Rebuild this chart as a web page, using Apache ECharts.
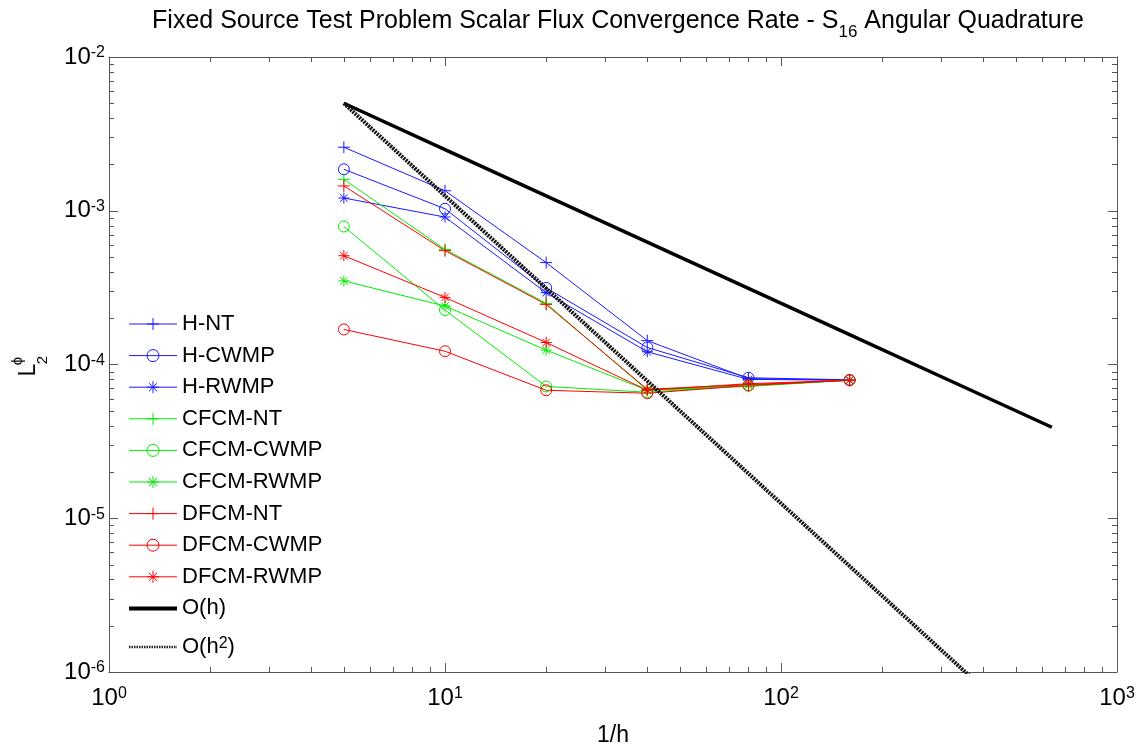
<!DOCTYPE html>
<html><head><meta charset="utf-8">
<script src="https://cdn.jsdelivr.net/npm/echarts@6/dist/echarts.min.js"></script>
<style>html,body{margin:0;padding:0;background:#fff}#c{width:1143px;height:746px}</style>
</head><body><div id="c"></div>
<script>
// ---- data ----
const invH = [5, 10, 20, 40, 80, 160];
const H_NT      = [2.59e-3, 1.35e-3, 4.6e-4, 1.43e-4, 8.1e-5, 7.9e-5];
const H_CWMP    = [1.86e-3, 1.03e-3, 3.15e-4, 1.29e-4, 8.2e-5, 7.95e-5];
const H_RWMP    = [1.21e-3, 9.1e-4, 2.93e-4, 1.21e-4, 8.0e-5, 7.9e-5];
const CFCM_NT   = [1.6e-3, 5.6e-4, 2.5e-4, 6.8e-5, 7.2e-5, 7.9e-5];
const CFCM_CWMP = [7.9e-4, 2.26e-4, 7.2e-5, 6.6e-5, 7.3e-5, 7.9e-5];
const CFCM_RWMP = [3.5e-4, 2.4e-4, 1.24e-4, 6.8e-5, 7.3e-5, 7.9e-5];
const DFCM_NT   = [1.45e-3, 5.5e-4, 2.46e-4, 6.9e-5, 7.4e-5, 7.9e-5];
const DFCM_CWMP = [1.69e-4, 1.22e-4, 6.8e-5, 6.5e-5, 7.3e-5, 7.9e-5];
const DFCM_RWMP = [5.1e-4, 2.73e-4, 1.39e-4, 6.8e-5, 7.5e-5, 7.9e-5];
const refX  = [5, 10, 20, 40, 80, 160, 320, 640];
const O_h   = [5e-3, 2.5e-3, 1.25e-3, 6.25e-4, 3.125e-4, 1.5625e-4, 7.8125e-5, 3.90625e-5];
const O_h2  = [5e-3, 1.25e-3, 3.125e-4, 7.8125e-5, 1.953125e-5, 4.8828125e-6, 1.220703125e-6, 3.0517578125e-7];
const seriesNames = ['H-NT','H-CWMP','H-RWMP','CFCM-NT','CFCM-CWMP','CFCM-RWMP','DFCM-NT','DFCM-CWMP','DFCM-RWMP','O(h)','O(h2)'];
const xMinorTicks = [2,3,4,5,6,7,8,9, 20,30,40,50,60,70,80,90, 200,300,400,500,600,700,800,900];
const yMinorTicks = [2e-6,3e-6,4e-6,5e-6,6e-6,7e-6,8e-6,9e-6, 2e-5,3e-5,4e-5,5e-5,6e-5,7e-5,8e-5,9e-5,
                     2e-4,3e-4,4e-4,5e-4,6e-4,7e-4,8e-4,9e-4, 2e-3,3e-3,4e-3,5e-3,6e-3,7e-3,8e-3,9e-3];

// ---- styling ----
const FONT = 'Liberation Sans';
const AXIS = '#555';
const BLUE = '#1a1aff', GREEN = '#00ee00', RED = '#ff0000';
const PLUS = 'path://M5,0L5,10M0,5L10,5';
const STAR = 'path://M5,0L5,10M0,5L10,5M1.6,1.6L8.4,8.4M8.4,1.6L1.6,8.4';

function pairs(xs, ys) { return xs.map((x, i) => [x, ys[i]]); }

function dataSeries(name, ys, color, marker) {
  let symbol = marker === '+' ? PLUS : marker === '*' ? STAR : 'circle';
  let size = marker === '+' ? 12 : 11;
  return {
    name, type: 'line', data: pairs(invH, ys), symbol, symbolSize: size,
    showAllSymbol: true, animation: false,
    lineStyle: { color, width: 1 },
    itemStyle: { color: 'rgba(0,0,0,0)', borderColor: color, borderWidth: 1 },
    emphasis: { disabled: true }, z: 3
  };
}

function minorX(params, api) {
  const cs = params.coordSys;
  const p = api.coord([api.value(0), api.value(1)]);
  const x = Math.round(p[0]) + 0.5;
  const st = { stroke: AXIS, lineWidth: 1 };
  return { type: 'group', children: [
    { type: 'line', shape: { x1: x, y1: cs.y + cs.height, x2: x, y2: cs.y + cs.height - 5 }, style: st },
    { type: 'line', shape: { x1: x, y1: cs.y, x2: x, y2: cs.y + 5 }, style: st }
  ]};
}
function minorY(params, api) {
  const cs = params.coordSys;
  const p = api.coord([api.value(0), api.value(1)]);
  const y = Math.round(p[1]) + 0.5;
  const st = { stroke: AXIS, lineWidth: 1 };
  return { type: 'group', children: [
    { type: 'line', shape: { x1: cs.x, y1: y, x2: cs.x + 5, y2: y }, style: st },
    { type: 'line', shape: { x1: cs.x + cs.width, y1: y, x2: cs.x + cs.width - 5, y2: y }, style: st }
  ]};
}

const expRich = {
  b: { fontSize: 24, fontFamily: FONT, color: '#000', lineHeight: 24, padding: [6, 0, 0, 0], verticalAlign: 'bottom' },
  e: { fontSize: 16, fontFamily: FONT, color: '#000', lineHeight: 16, verticalAlign: 'top' }
};
function expLabel(v) { const e = Math.round(Math.log10(v)); return '{b|10}{e|' + e + '}'; }

const axisCommon = {
  type: 'log', logBase: 10,
  axisLine: { show: true, lineStyle: { color: AXIS, width: 1 } },
  axisTick: { show: true, inside: true, length: 9, lineStyle: { color: AXIS } },
  splitLine: { show: false }, minorTick: { show: false }
};

const series = [
  dataSeries('H-NT', H_NT, BLUE, '+'),
  dataSeries('H-CWMP', H_CWMP, BLUE, 'o'),
  dataSeries('H-RWMP', H_RWMP, BLUE, '*'),
  dataSeries('CFCM-NT', CFCM_NT, GREEN, '+'),
  dataSeries('CFCM-CWMP', CFCM_CWMP, GREEN, 'o'),
  dataSeries('CFCM-RWMP', CFCM_RWMP, GREEN, '*'),
  dataSeries('DFCM-NT', DFCM_NT, RED, '+'),
  dataSeries('DFCM-CWMP', DFCM_CWMP, RED, 'o'),
  dataSeries('DFCM-RWMP', DFCM_RWMP, RED, '*'),
  { name: 'O(h)', type: 'line', data: pairs(refX, O_h), symbol: 'none', animation: false,
    lineStyle: { color: '#000', width: 3.5 }, itemStyle: { color: '#000' }, emphasis: { disabled: true }, z: 4 },
  { name: 'O(h2)', type: 'line', data: pairs(refX, O_h2), symbol: 'none', animation: false, clip: true,
    lineStyle: { color: '#111', width: 4, type: [2, 1] }, itemStyle: { color: '#111' }, emphasis: { disabled: true }, z: 4 },
  { type: 'custom', data: xMinorTicks.map(v => [v, 1e-4]), renderItem: minorX, silent: true, animation: false, z: 1 },
  { type: 'custom', data: yMinorTicks.map(v => [10, v]), renderItem: minorY, silent: true, animation: false, z: 1 }
];

const legendData = seriesNames.map(function (n) {
  if (n === 'O(h)') return { name: n, itemStyle: { opacity: 0 }, lineStyle: { width: 4, color: '#000' } };
  if (n === 'O(h2)') return { name: n, itemStyle: { opacity: 0 }, lineStyle: { width: 2.5, color: '#222', type: [1.5, 1] } };
  return { name: n, itemStyle: { borderWidth: 1 }, lineStyle: { width: 1 } };
});

const chart = echarts.init(document.getElementById('c'), null, { renderer: 'canvas' });
chart.setOption({
  backgroundColor: '#fff',
  animation: false,
  title: {
    left: 613, top: 4, textAlign: 'center',
    text: '{t|Fixed Source Test Problem Scalar Flux Convergence Rate - S}{s|16}{t| Angular Quadrature}',
    textStyle: { fontWeight: 'normal', rich: {
      t: { fontSize: 25, fontWeight: 'normal', fontFamily: FONT, color: '#000', lineHeight: 26, verticalAlign: 'top' },
      s: { fontSize: 17, fontWeight: 'normal', fontFamily: FONT, color: '#000', lineHeight: 17, padding: [15, 0, 0, 0], verticalAlign: 'top' }
    } }
  },
  grid: { left: 109, right: 26, top: 57, bottom: 74, containLabel: false },
  xAxis: [
    Object.assign({}, axisCommon, { min: 1, max: 1000, position: 'bottom',
      axisLabel: { show: true, margin: 14, formatter: expLabel, rich: expRich } }),
    Object.assign({}, axisCommon, { min: 1, max: 1000, position: 'top', axisLabel: { show: false } })
  ],
  yAxis: [
    Object.assign({}, axisCommon, { min: 1e-6, max: 1e-2, position: 'left',
      axisLabel: { show: true, margin: 4, formatter: expLabel, rich: expRich } }),
    Object.assign({}, axisCommon, { min: 1e-6, max: 1e-2, position: 'right', axisLabel: { show: false } })
  ],
  legend: {
    orient: 'vertical', left: 127, top: 313, padding: 0, itemWidth: 48, itemHeight: 15, itemGap: 9.6,
    data: legendData, selectedMode: false, backgroundColor: 'transparent',
    textStyle: { fontSize: 22, fontFamily: FONT, color: '#000',
      rich: { n: { fontSize: 22, fontFamily: FONT, color: '#000', lineHeight: 22, padding: [7, 0, 0, 0], verticalAlign: 'bottom' },
              sup: { fontSize: 16, fontFamily: FONT, color: '#000', verticalAlign: 'top', lineHeight: 16 } } },
    formatter: function (name) { return name === 'O(h2)' ? '{n|O(h}{sup|2}{n|)}' : name; }
  },
  graphic: [
    { type: 'text', x: 613, y: 736, style: { text: '1/h', font: '23px ' + FONT, fill: '#000', textAlign: 'center', textVerticalAlign: 'middle' } },
    { type: 'text', x: 29, y: 370, rotation: Math.PI / 2, style: { text: 'L', font: '23px ' + FONT, fill: '#000', textAlign: 'center', textVerticalAlign: 'middle' } },
    { type: 'text', x: 43, y: 360, rotation: Math.PI / 2, style: { text: '2', font: '15px ' + FONT, fill: '#000', textAlign: 'center', textVerticalAlign: 'middle' } },
    { type: 'text', x: 18, y: 361, rotation: Math.PI / 2, style: { text: 'ϕ', font: '15px ' + FONT, fill: '#000', textAlign: 'center', textVerticalAlign: 'middle' } }
  ],
  series
});
</script></body></html>
